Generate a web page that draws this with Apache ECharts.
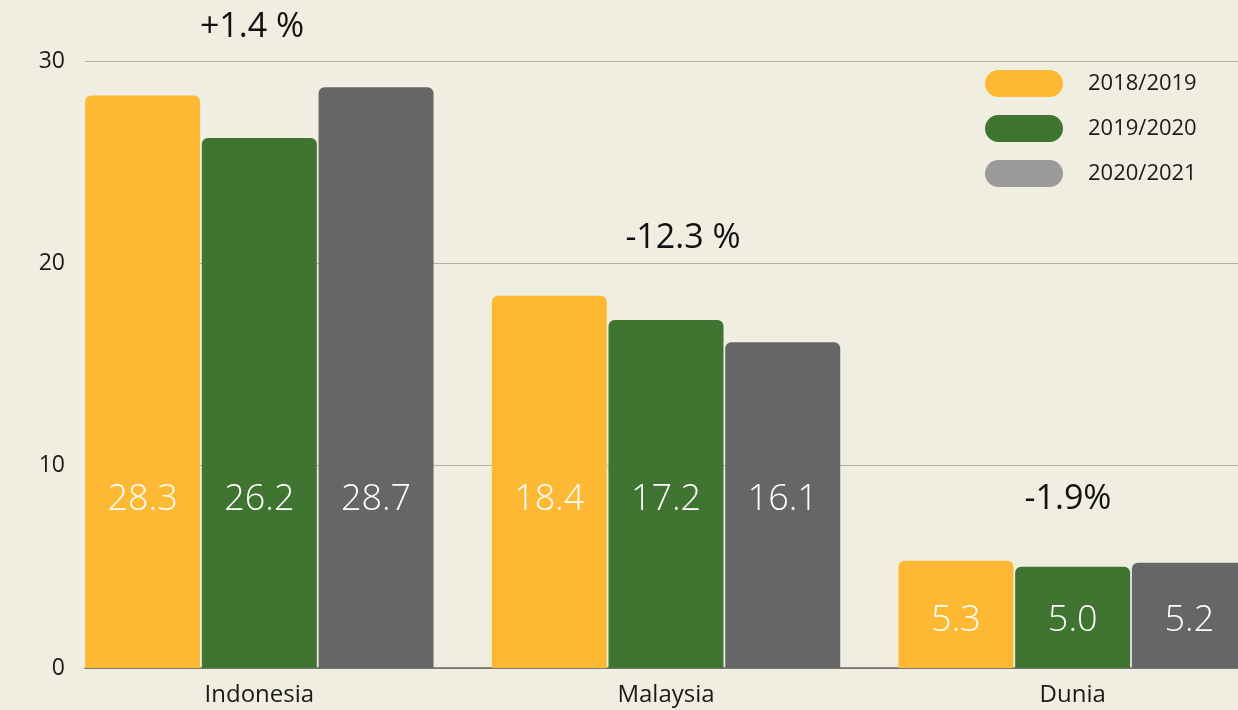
<!DOCTYPE html>
<html>
<head>
<meta charset="utf-8">
<script src="https://cdn.jsdelivr.net/npm/echarts@6/dist/echarts.min.js"></script>
<style>
  html, body { margin: 0; padding: 0; background: #f0ede1; overflow: hidden; }
  /* chart is wider than the window: the Dunia group runs off the right edge */
  #chart { width: 1276px; height: 710px; }
</style>
</head>
<body>
<div id="chart"></div>
<script>
var categories = ['Indonesia', 'Malaysia', 'Dunia'];
var seriesNames = ['2018/2019', '2019/2020', '2020/2021'];
var values2018 = [28.3, 18.4, 5.3];
var values2019 = [26.2, 17.2, 5.0];
var values2020 = [28.7, 16.1, 5.2];
var changeLabels = ['+1.4 %', '-12.3 %', '-1.9%'];
var yTicks = [0, 10, 20, 30];

var barColors = ['#fdb933', '#3f7431', '#666666'];
var legendColors = ['#fdb933', '#3f7431', '#9a9a9a'];
var font = '"Open Sans", "Noto Sans", sans-serif';

// labels sit low in the bar: high for the two tall groups, near bottom for Dunia
function labelData(vals) {
  return vals.map(function (v, i) {
    return {
      value: v,
      label: { distance: i < 2 ? 150 : 29 }
    };
  });
}

function makeSeries(name, vals, idx) {
  return {
    name: name,
    type: 'bar',
    xAxisIndex: 0,
    yAxisIndex: 0,
    barWidth: 115,
    barGap: '1.5%',
    data: labelData(vals),
    itemStyle: { color: barColors[idx], borderRadius: [6, 6, 0, 0] },
    label: {
      show: true,
      position: 'insideBottom',
      color: '#ffffff',
      fontSize: 36,
      fontWeight: 300,
      fontFamily: font,
      formatter: function (p) { return p.value.toFixed(1); }
    }
  };
}

var chart = echarts.init(document.getElementById('chart'));
chart.setOption({
  backgroundColor: '#f0ede1',
  animation: false,
  grid: [
    { left: 56, right: 0, top: 61, bottom: 42 },
    { left: 85, right: 38, top: 61, bottom: 42 }
  ],
  legend: {
    orient: 'vertical',
    left: 985,
    top: 70,
    padding: 0,
    itemWidth: 78,
    itemHeight: 27,
    itemGap: 18,
    icon: 'path://M13.5,0 L64.5,0 A13.5,13.5 0 0 1 64.5,27 L13.5,27 A13.5,13.5 0 0 1 13.5,0 Z',
    textStyle: { fontSize: 22, color: '#1a1a1a', fontFamily: font, padding: [0, 0, 0, 20] },
    data: seriesNames.map(function (n, i) {
      return { name: n, itemStyle: { color: legendColors[i] } };
    })
  },
  xAxis: [
    {
      gridIndex: 0,
      type: 'category',
      data: categories,
      axisLine: { show: false },
      axisTick: { show: false },
      axisLabel: { fontSize: 24, color: '#1a1a1a', fontFamily: font, margin: 15 }
    },
    {
      gridIndex: 1,
      type: 'value',
      min: 0,
      max: 1,
      axisLine: { show: true, onZero: false, lineStyle: { color: '#666666', width: 1.5 } },
      axisTick: { show: false },
      axisLabel: { show: false },
      splitLine: { show: false }
    }
  ],
  yAxis: [
    {
      gridIndex: 0,
      type: 'value',
      min: 0,
      max: 30,
      interval: 10,
      show: false
    },
    {
      gridIndex: 1,
      type: 'value',
      min: yTicks[0],
      max: yTicks[yTicks.length - 1],
      interval: 10,
      axisLine: { show: false },
      axisTick: { show: false },
      axisLabel: { fontSize: 23, color: '#1a1a1a', fontFamily: font, margin: 20 },
      splitLine: { lineStyle: { color: '#b3afa3', width: 1 } }
    }
  ],
  series: [
    makeSeries(seriesNames[0], values2018, 0),
    makeSeries(seriesNames[1], values2019, 1),
    makeSeries(seriesNames[2], values2020, 2)
  ],
  graphic: [
    { type: 'text', x: 252, y: 27, style: { text: changeLabels[0], fontSize: 34, fontFamily: font, fill: '#111', align: 'center', verticalAlign: 'middle' } },
    { type: 'text', x: 683, y: 238, style: { text: changeLabels[1], fontSize: 34, fontFamily: font, fill: '#111', align: 'center', verticalAlign: 'middle' } },
    { type: 'text', x: 1068, y: 499, style: { text: changeLabels[2], fontSize: 34, fontFamily: font, fill: '#111', align: 'center', verticalAlign: 'middle' } }
  ]
});
</script>
</body>
</html>
